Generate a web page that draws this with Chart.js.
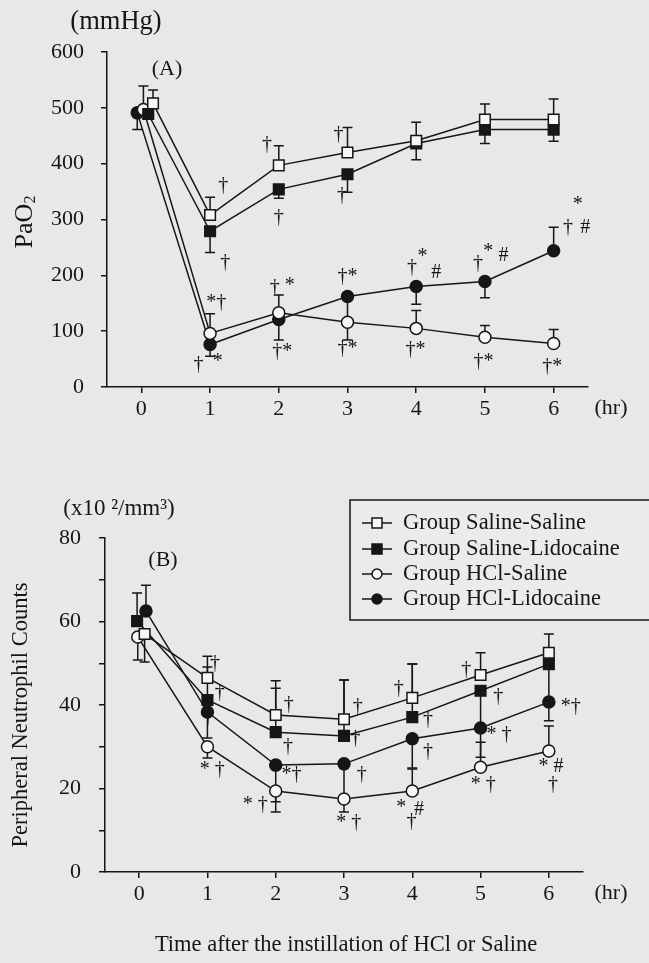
<!DOCTYPE html>
<html>
<head>
<meta charset="utf-8">
<script src="https://cdn.jsdelivr.net/npm/chart.js@4.4.1/dist/chart.umd.min.js"></script>
<style>
  body { margin: 0; background: #e8e8e6; }
  #wrap { position: relative; width: 649px; height: 963px; overflow: hidden; }
  canvas { position: absolute; left: 0; }
</style>
</head>
<body>
<div id="wrap">
  <canvas id="chartA" width="649" height="440" style="top:0"></canvas>
  <canvas id="chartB" width="649" height="523" style="top:440px"></canvas>
</div>
<script>
const hours = [0, 1, 2, 3, 4, 5, 6];
const hourTicks = [0, 1, 2, 3, 4, 5, 6];
const groupNames = ["Group Saline-Saline", "Group Saline-Lidocaine", "Group HCl-Saline", "Group HCl-Lidocaine"];

// (A) PaO2, mmHg
const pao2SalSal = [508, 308, 397, 420, 441, 479, 479];
const pao2SalLido = [489, 279, 354, 381, 436, 461, 461];
const pao2HclSal = [497, 96, 133, 116, 105, 89, 78];
const pao2HclLido = [491, 76, 121, 162, 180, 189, 244];
// SD bars, the sign is the side the bar is drawn on
const pao2SdSalSal = [24, 32, 35, 45, 33, 28, 37];
const pao2SdSalLido = [null, -38, -16, -32, -29, -25, -21];
const pao2SdHclSal = [42, 35, 32, -32, 32, 21, 25];
const pao2SdHclLido = [-30, -21, -37, -40, -32, -29, 42];

// (B) peripheral neutrophils, x10^2/mm3
const neuSalSal = [57.0, 46.5, 37.6, 36.6, 41.7, 47.2, 52.5];
const neuSalLido = [60.1, 41.2, 33.5, 32.6, 37.1, 43.4, 49.8];
const neuHclSal = [56.3, 30.0, 19.4, 17.5, 19.4, 25.1, 29.0];
const neuHclLido = [62.5, 38.3, 25.6, 25.9, 31.9, 34.5, 40.7];
const neuSdSalSal = [-6.7, 5.2, 8.2, 9.4, 8.1, 5.3, 4.5];
const neuSdSalLido = [6.7, 7.9, 10.5, 13.4, 12.7, -8.9, -9.1];
const neuSdHclSal = [-5.5, -2.7, -5, -3.1, 5.3, 6, 6];
const neuSdHclLido = [6.2, -6.2, -8.8, -8.4, -7, -7, -4.5];

// the 0 hr points are nudged sideways in the original so they don't hide each other
const startShiftA = [0.17, 0.1, 0.03, -0.06];
const startShiftB = [0.08, -0.03, -0.02, 0.1];

// significance marks: [hour, value, text]
const marksA = [
  [1.19, 360, "†"], [1.22, 222, "†"], [1.83, 434, "†"], [2.0, 303, "†"],
  [1.09, 151, "*†"], [0.83, 39, "†"], [1.11, 45, "*"],
  [1.94, 178, "†"], [2.16, 181, "*"], [2.05, 64, "†*"],
  [2.87, 452, "†"], [2.92, 342, "†"], [3.0, 198, "†*"], [3.0, 68, "†*"],
  [3.94, 214, "†"], [4.09, 233, "*"], [4.29, 205, "#"], [3.99, 67, "†*"],
  [4.9, 220, "†"], [5.05, 242, "*"], [5.27, 235, "#"], [4.98, 45, "†*"],
  [6.35, 326, "*"], [6.21, 285, "†"], [6.46, 285, "#"], [5.98, 36, "†*"]
];
const marksB = [
  [1.11, 50, "†"], [1.18, 42.9, "†"], [1.01, 36.9, "†"], [1.07, 24.4, "* †"],
  [2.19, 40, "†"], [2.18, 29.9, "†"], [2.23, 23.2, "*†"], [1.7, 16, "* †"],
  [3.2, 39.5, "†"], [3.17, 32, "†"], [3.26, 23.2, "†"], [3.07, 11.7, "* †"],
  [3.8, 44, "†"], [4.23, 36.4, "†"], [4.23, 28.7, "†"],
  [3.84, 15.3, "*"], [4.1, 14.8, "#"], [3.99, 12, "†"],
  [4.79, 48.4, "†"], [5.26, 41.9, "†"], [5.27, 32.8, "* †"], [5.04, 20.8, "* †"],
  [6.32, 39.5, "*†"], [6.03, 25.1, "* #"], [6.06, 20.8, "†"]
];

const serif = '"Liberation Serif", "Times New Roman", serif';
const ink = "#161616";
const paper = "#f6f6f4";

const looks = [
  { style: "rect", radius: 7.5, fill: paper },
  { style: "rect", radius: 7.5, fill: ink },
  { style: "circle", radius: 6, fill: paper },
  { style: "circle", radius: 6, fill: ink }
];

function buildDatasets(series, sds, shifts) {
  return series.map((vals, g) => ({
    label: groupNames[g],
    data: vals.map((v, i) => ({ x: i === 0 ? hours[i] + shifts[g] : hours[i], y: v })),
    sd: sds[g],
    borderColor: ink,
    borderWidth: 1.5,
    tension: 0,
    pointStyle: looks[g].style,
    pointRadius: looks[g].radius,
    pointHoverRadius: looks[g].radius,
    pointBackgroundColor: looks[g].fill,
    pointBorderColor: ink,
    pointBorderWidth: 1.5
  }));
}

const errorBars = {
  id: "errorBars",
  beforeDatasetsDraw(chart) {
    const ctx = chart.ctx;
    const y = chart.scales.y;
    ctx.save();
    ctx.strokeStyle = ink;
    ctx.lineWidth = 1.5;
    chart.data.datasets.forEach((ds, g) => {
      const meta = chart.getDatasetMeta(g);
      ds.sd.forEach((sd, i) => {
        if (sd == null) return;
        const pt = meta.data[i];
        const yEnd = y.getPixelForValue(ds.data[i].y + sd);
        ctx.beginPath();
        ctx.moveTo(pt.x, pt.y);
        ctx.lineTo(pt.x, yEnd);
        ctx.moveTo(pt.x - 5, yEnd);
        ctx.lineTo(pt.x + 5, yEnd);
        ctx.stroke();
      });
    });
    ctx.restore();
  }
};

function marksPlugin(marks) {
  return {
    id: "marks",
    afterDatasetsDraw(chart) {
      const ctx = chart.ctx;
      const { x, y } = chart.scales;
      ctx.save();
      ctx.fillStyle = ink;
      ctx.font = "20px " + serif;
      ctx.textAlign = "center";
      ctx.textBaseline = "middle";
      marks.forEach(m => ctx.fillText(m[2], x.getPixelForValue(m[0]), y.getPixelForValue(m[1])));
      ctx.restore();
    }
  };
}

function text(ctx, str, x, y, size, align, rot) {
  ctx.save();
  ctx.translate(x, y);
  if (rot) ctx.rotate(rot);
  ctx.font = size + "px " + serif;
  ctx.fillStyle = ink;
  ctx.textAlign = align || "center";
  ctx.textBaseline = "middle";
  ctx.fillText(str, 0, 0);
  ctx.restore();
}

const labelsA = {
  id: "labelsA",
  afterDraw(chart) {
    const ctx = chart.ctx;
    text(ctx, "(mmHg)", 116, 22, 26.5);
    text(ctx, "(A)", 167, 69, 22);
    text(ctx, "(hr)", 611, 408, 22);
    // PaO2 with subscript 2, rotated
    ctx.save();
    ctx.translate(25, 222);
    ctx.rotate(-Math.PI / 2);
    ctx.fillStyle = ink;
    ctx.textBaseline = "middle";
    ctx.font = "26px " + serif;
    const w = ctx.measureText("PaO").width;
    ctx.font = "16px " + serif;
    const w2 = ctx.measureText("2").width;
    ctx.font = "26px " + serif;
    ctx.textAlign = "left";
    ctx.fillText("PaO", -(w + w2) / 2, 0);
    ctx.font = "16px " + serif;
    ctx.fillText("2", -(w + w2) / 2 + w, 6);
    ctx.restore();
  }
};

const labelsB = {
  id: "labelsB",
  afterDraw(chart) {
    const ctx = chart.ctx;
    text(ctx, "(x10 \u00b2/mm\u00b3)", 119, 69, 23);
    text(ctx, "(B)", 163, 120, 22);
    text(ctx, "(hr)", 611, 453, 22);
    text(ctx, "Peripheral Neutrophil Counts", 21, 275, 22.5, "center", -Math.PI / 2);
    text(ctx, "Time after the instillation of HCl or Saline", 346, 505, 22.5);

    // legend box
    ctx.save();
    ctx.strokeStyle = ink;
    ctx.lineWidth = 1.5;
    ctx.fillStyle = "#ebebe9";
    ctx.fillRect(350, 60, 320, 120);
    ctx.strokeRect(350, 60, 320, 120);
    const rows = [83, 109, 134, 159];
    rows.forEach((ry, g) => {
      ctx.beginPath();
      ctx.moveTo(362, ry);
      ctx.lineTo(392, ry);
      ctx.stroke();
      ctx.fillStyle = looks[g].fill;
      ctx.beginPath();
      if (looks[g].style === "rect") ctx.rect(372, ry - 5, 10, 10);
      else ctx.arc(377, ry, 5, 0, Math.PI * 2);
      ctx.fill();
      ctx.stroke();
      text(ctx, groupNames[g], 403, ry, 22.5, "left");
    });
    ctx.restore();
  }
};

function axisGrid() {
  return { display: true, drawOnChartArea: false, drawTicks: true, tickLength: 6, color: ink, lineWidth: 1.5 };
}

function makeChart(id, datasets, yMin, yMax, yStep, yCallback, box, plugins) {
  return new Chart(document.getElementById(id), {
    type: "line",
    data: { datasets },
    options: {
      responsive: false,
      animation: false,
      events: [],
      layout: { padding: { top: box.top, right: box.right, left: 0, bottom: 0 } },
      plugins: { legend: { display: false }, tooltip: { enabled: false } },
      scales: {
        x: {
          type: "linear",
          min: -0.5,
          max: 6.5,
          afterBuildTicks: s => { s.ticks = hourTicks.map(v => ({ value: v })); },
          afterFit: s => { s.height = box.xHeight; },
          ticks: { color: ink, font: { family: serif, size: 22 }, padding: 3 },
          grid: axisGrid(),
          border: { display: true, color: ink, width: 1.5 }
        },
        y: {
          min: yMin,
          max: yMax,
          afterFit: s => { s.width = box.yWidth; },
          ticks: { stepSize: yStep, color: ink, font: { family: serif, size: 22 }, padding: box.tickPad, callback: yCallback },
          grid: axisGrid(),
          border: { display: true, color: ink, width: 1.5 }
        }
      }
    },
    plugins
  });
}

makeChart(
  "chartA",
  buildDatasets([pao2SalSal, pao2SalLido, pao2HclSal, pao2HclLido],
                [pao2SdSalSal, pao2SdSalLido, pao2SdHclSal, pao2SdHclLido], startShiftA),
  0, 600, 100, v => String(v),
  { top: 52, right: 61, xHeight: 53, yWidth: 107, tickPad: 17 },
  [errorBars, marksPlugin(marksA), labelsA]
);

makeChart(
  "chartB",
  buildDatasets([neuSalSal, neuSalLido, neuHclSal, neuHclLido],
                [neuSdSalSal, neuSdSalLido, neuSdHclSal, neuSdHclLido], startShiftB),
  0, 80, 10, v => (v % 20 === 0 ? String(v) : ""),
  { top: 98, right: 66, xHeight: 91, yWidth: 105, tickPad: 18 },
  [errorBars, marksPlugin(marksB), labelsB]
);
</script>
</body>
</html>
